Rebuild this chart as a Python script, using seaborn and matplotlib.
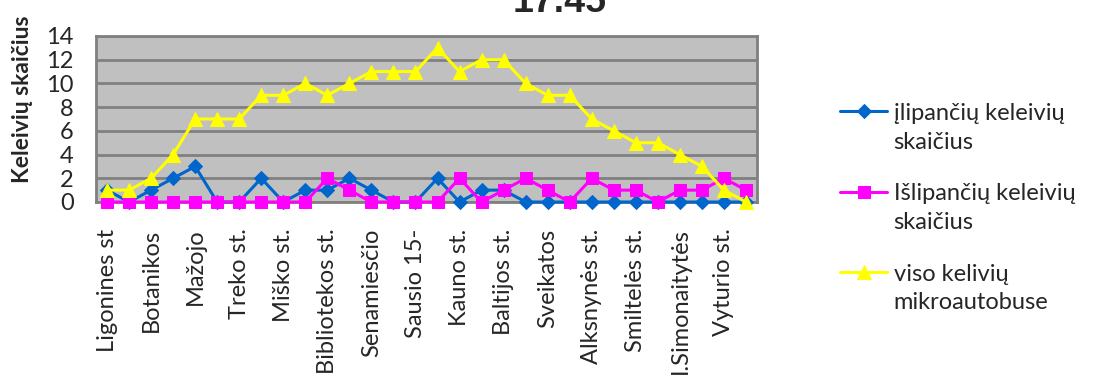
import matplotlib
matplotlib.use("Agg")
import matplotlib.pyplot as plt
import seaborn as sns
import pandas as pd
import numpy as np

# ---- data ----
stops = ["Ligonines st", "", "Botanikos", "", "Mažojo", "", "Treko st.", "",
         "Miško st.", "", "Bibliotekos st.", "", "Senamiesčio", "", "Sausio 15-", "",
         "Kauno st.", "", "Baltijos st.", "", "Sveikatos", "", "Alksnynės st.", "",
         "Smiltelės st.", "", "I.Simonaitytės", "", "Vyturio st.", ""]
ilipanciu = [1, 0, 1, 2, 3, 0, 0, 2, 0, 1, 1, 2, 1, 0, 0, 2, 0, 1, 1, 0,
             0, 0, 0, 0, 0, 0, 0, 0, 0, 0]
islipanciu = [0, 0, 0, 0, 0, 0, 0, 0, 0, 0, 2, 1, 0, 0, 0, 0, 2, 0, 1, 2,
              1, 0, 2, 1, 1, 0, 1, 1, 2, 1]
viso = [1, 1, 2, 4, 7, 7, 7, 9, 9, 10, 9, 10, 11, 11, 11, 13, 11, 12, 12, 10,
        9, 9, 7, 6, 5, 5, 4, 3, 1, 0]
series_names = ["įlipančių keleivių\nskaičius", "Išlipančių keleivių\nskaičius",
                "viso kelivių\nmikroautobuse"]
title = "17.45"
ylabel = "Keleivių skaičius"
yticks = [0, 2, 4, 6, 8, 10, 12, 14]

sns.set_style("white")
plt.rcParams["font.family"] = ["Lato", "DejaVu Sans"]

W, H = 1094, 376
fig = plt.figure(figsize=(W / 100, H / 100), dpi=100)
ax = fig.add_axes([96 / W, 1 - 202 / H, (757 - 96) / W, (202 - 36) / H])
ax.set_facecolor("#C0C0C0")

x = np.arange(len(stops))
df = pd.DataFrame({"x": x, "a": ilipanciu, "b": islipanciu, "c": viso})

styles = [("a", "#0066CC", "D", 7), ("b", "#FF00FF", "s", 8), ("c", "#FFFF00", "^", 10)]
for (col, color, mk, ms), name in zip(styles, series_names):
    sns.lineplot(data=df, x="x", y=col, ax=ax, color=color, marker=mk,
                 markersize=ms, markeredgecolor=color, linewidth=2.2,
                 label=name, zorder=3, clip_on=False)

ax.set_xlim(-0.5, len(stops) - 0.5)
ax.set_ylim(0, 14)
ax.set_yticks(yticks)
ax.yaxis.grid(True, color="#808080", linewidth=2)
ax.set_axisbelow(True)
for s in ax.spines.values():
    s.set_color("#808080")
    s.set_linewidth(2)

ax.set_xticks(x)
ax.set_xticklabels(stops, rotation=90, fontsize=17)
ax.tick_params(axis="x", length=0, pad=19)
ax.tick_params(axis="y", length=0, pad=16, labelsize=17)
ax.set_xlabel("")
ax.set_ylabel(ylabel, fontsize=16.5, fontweight="bold")
ax.yaxis.set_label_coords(-0.0953, 0.62)

leg = ax.legend(loc="upper left", bbox_to_anchor=(840 / W, 1 - 103 / H),
                bbox_transform=fig.transFigure, frameon=False, fontsize=17,
                handlelength=2.0, handletextpad=0.27, borderpad=0,
                borderaxespad=0, labelspacing=1.3)
for t in leg.get_texts():
    t.set_linespacing(1.45)
# align each handle with the first line of its label
for col in leg._legend_handle_box.get_children():
    for row in col.get_children():
        row.align = "top"

fig.text(560 / W, 1 - 12 / H, title, ha="center", va="baseline",
         fontsize=27, fontweight="bold", family="Liberation Sans")

fig.savefig("out.png", dpi=100, facecolor="white")
